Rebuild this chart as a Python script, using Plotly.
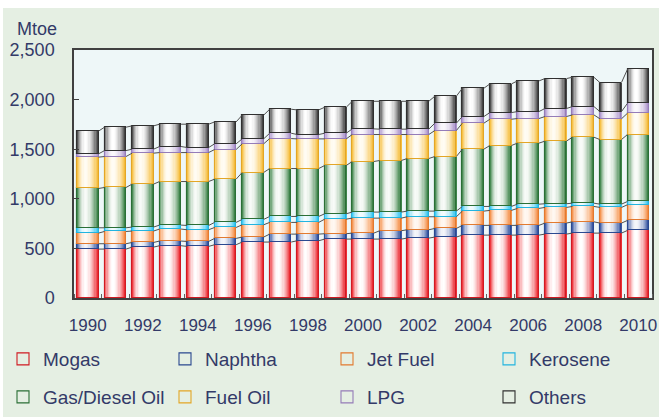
import plotly.graph_objects as go

years = list(range(1990, 2011))
series_names = ["Mogas", "Naphtha", "Jet Fuel", "Kerosene",
                "Gas/Diesel Oil", "Fuel Oil", "LPG", "Others"]
mogas = [493, 493, 513, 527, 520, 537, 564, 564, 577, 594, 594, 594, 604, 614, 634, 634, 634, 644, 654, 654, 681]
naphtha = [54, 54, 47, 47, 50, 64, 50, 80, 67, 54, 60, 84, 84, 87, 98, 98, 98, 111, 114, 101, 101]
jet_fuel = [107, 124, 115, 121, 118, 110, 124, 118, 118, 147, 151, 127, 131, 118, 144, 151, 171, 158, 155, 158, 158]
kerosene = [54, 37, 40, 40, 43, 51, 54, 60, 60, 54, 61, 61, 57, 57, 47, 40, 43, 37, 33, 33, 33]
gas_diesel = [396, 406, 433, 439, 443, 436, 473, 483, 483, 487, 510, 520, 530, 550, 577, 614, 615, 631, 665, 651, 675]
fuel_oil = [316, 312, 312, 292, 292, 299, 289, 302, 299, 268, 272, 262, 242, 262, 262, 265, 248, 248, 225, 209, 215]
lpg = [33, 60, 40, 61, 51, 57, 50, 54, 44, 57, 57, 54, 54, 74, 67, 67, 70, 81, 84, 73, 100]
others = [229, 236, 235, 225, 235, 221, 239, 242, 248, 262, 278, 281, 281, 272, 285, 289, 309, 302, 295, 292, 343]
values = [mogas, naphtha, jet_fuel, kerosene, gas_diesel, fuel_oil, lpg, others]

y_tickvals = [0, 500, 1000, 1500, 2000, 2500]
y_ticktext = ["0", "500", "1,000", "1,500", "2,000", "2,500"]
x_tickvals = list(range(1990, 2011, 2))

edge_colors = ["#ec1c24", "#2b4c9b", "#f4873a", "#2cc3ef",
               "#2f7b3c", "#f6b92f", "#a78ec8", "#383838"]
center_colors = ["#ffffff", "#f3f5fa", "#fff8f2", "#f3fcfe",
                 "#f8fbf8", "#fffcf4", "#faf8fc", "#ffffff"]
line_colors = ["#d01a22", "#2a4890", "#e27a30", "#22b4e0",
               "#2a6f36", "#e3a626", "#957cb8", "#303030"]

BAR_W = 0.78
N_STRIPES = 18
HIGHLIGHT = 0.42


def hex2rgb(h):
    h = h.lstrip("#")
    return tuple(int(h[i:i + 2], 16) for i in (0, 2, 4))


def mix(c_center, c_edge, f):
    a = hex2rgb(c_center)
    b = hex2rgb(c_edge)
    return "rgb(%d,%d,%d)" % tuple(round(a[i] + (b[i] - a[i]) * f) for i in range(3))


def shade(s):
    if s < HIGHLIGHT:
        return (abs(s - HIGHLIGHT) / HIGHLIGHT) ** 2.0
    return ((s - HIGHLIGHT) / (1 - HIGHLIGHT)) ** 1.7


# cumulative bases
bases = []
tops = []
run = [0] * len(years)
for vals in values:
    bases.append(list(run))
    run = [run[i] + vals[i] for i in range(len(years))]
    tops.append(list(run))

fig = go.Figure()

sw = BAR_W / N_STRIPES
for si, vals in enumerate(values):
    for k in range(N_STRIPES):
        s = (k + 0.5) / N_STRIPES
        off = -BAR_W / 2 + k * sw
        width = sw * 1.5 if k < N_STRIPES - 1 else sw
        fig.add_trace(go.Bar(
            x=years, y=vals, base=bases[si],
            width=width, offset=off,
            marker=dict(color=mix(center_colors[si], edge_colors[si], shade(s)),
                        line=dict(width=0)),
            showlegend=False, hoverinfo="skip",
        ))

# outlines (carry legend entries)
for si, vals in enumerate(values):
    fig.add_trace(go.Bar(
        x=years, y=vals, base=bases[si],
        width=BAR_W, offset=-BAR_W / 2,
        marker=dict(color="rgba(255,255,255,0)",
                    line=dict(color=line_colors[si], width=1.1)),
        name=series_names[si],
        legend="legend" if si < 4 else "legend2",
        showlegend=True,
    ))

# connector lines between bars
for si in range(len(values)):
    xs, ys = [], []
    for i in range(len(years) - 1):
        xs += [years[i] + BAR_W / 2, years[i + 1] - BAR_W / 2, None]
        ys += [tops[si][i], tops[si][i + 1], None]
    fig.add_trace(go.Scatter(
        x=xs, y=ys, mode="lines",
        line=dict(color="#505050", width=1),
        showlegend=False, hoverinfo="skip",
    ))

W, H = 659, 417
L, R, T, B = 74, 7, 50, 119
pw, ph = W - L - R, H - T - B


def px_x(px):
    return (px - L) / pw


def px_y(py):
    return (H - B - py) / ph


text_color = "#333a68"
font_family = "Liberation Sans, Arial, sans-serif"

legend_common = dict(
    orientation="h", xanchor="left", yanchor="middle",
    entrywidth=117, entrywidthmode="pixels",
    bgcolor="rgba(0,0,0,0)",
    font=dict(size=19, color=text_color),
    traceorder="normal",
)

fig.update_layout(
    width=W, height=H,
    margin=dict(l=L, r=R, t=T, b=B, autoexpand=False),
    paper_bgcolor="white",
    plot_bgcolor="rgba(0,0,0,0)",
    barmode="overlay",
    bargap=0,
    font=dict(family=font_family, color=text_color),
    shapes=[
        dict(type="rect", xref="paper", yref="paper",
             x0=px_x(3), x1=px_x(W + 5), y0=px_y(H + 5), y1=px_y(8),
             fillcolor="#e5efe3", line=dict(width=0), layer="below"),
        dict(type="rect", xref="paper", yref="paper",
             x0=0, x1=1, y0=0, y1=1,
             fillcolor="#eef7f8", line=dict(width=0), layer="below"),
    ],
    annotations=[
        dict(text="Mtoe", xref="paper", yref="paper",
             x=px_x(37), y=px_y(29), xanchor="center", yanchor="middle",
             showarrow=False, font=dict(size=18, color=text_color)),
    ],
    xaxis=dict(
        range=[1989.5, 2010.5],
        tickvals=x_tickvals,
        ticks="",
        tickfont=dict(size=17, color=text_color),
        ticklabelstandoff=11,
        showgrid=False, zeroline=False,
        showline=True, linecolor="#404040", linewidth=1.5, mirror=True,
        minor=dict(ticks="inside", tick0=1990.5, dtick=1, ticklen=4,
                   tickcolor="#606060", tickwidth=1, showgrid=False),
    ),
    yaxis=dict(
        range=[0, 2500],
        tickvals=y_tickvals, ticktext=y_ticktext,
        ticks="inside", ticklen=5, tickcolor="#404040",
        tickfont=dict(size=18, color=text_color),
        ticklabelstandoff=14,
        showgrid=False, zeroline=False,
        showline=True, linecolor="#404040", linewidth=1.5, mirror=True,
    ),
    legend=dict(x=px_x(3), y=px_y(359), **legend_common),
    legend2=dict(x=px_x(3), y=px_y(397), **legend_common),
)

fig.write_html("out.html",
               config={"displayModeBar": False},
               post_script="document.body.style.margin='0';document.body.style.padding='0';")
